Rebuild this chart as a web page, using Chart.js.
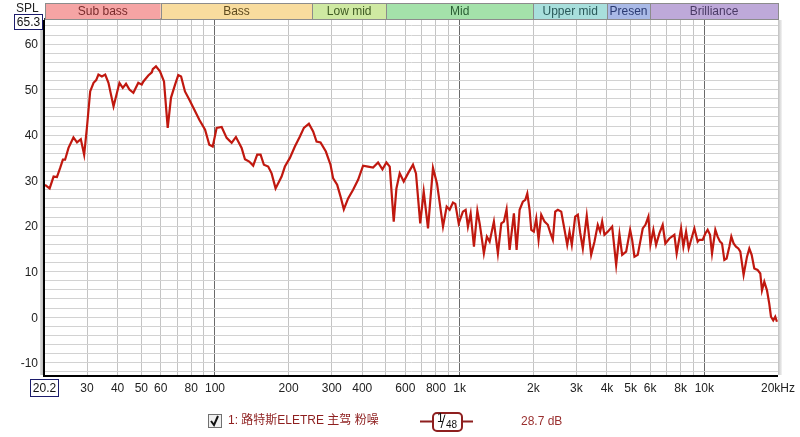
<!DOCTYPE html>
<html><head><meta charset="utf-8">
<script src="https://cdn.jsdelivr.net/npm/chart.js@4"></script>
<style>html,body{margin:0;padding:0;background:#fff;}canvas{display:block;}</style>
</head><body>
<canvas id="c" width="800" height="437"></canvas>
<script>
const bandNames = ['Sub bass','Bass','Low mid','Mid','Upper mid','Presen','Brilliance'];
const bandEdges = [20.2,60,250,500,2000,4000,6000,20000];
const bandFill = ['#f5a4a4','#f8dc9e','#cfe9a2','#a4e2aa','#a8dfdc','#a9b9e6','#bea9d9'];
const bandText = ['#7a2a2a','#5e4a1e','#3e5a22','#2a5e34','#2a5a5a','#2a3a72','#4a3a66'];
const xGridValues = [30,40,50,60,70,80,90,100,200,300,400,500,600,700,800,900,1000,2000,3000,4000,5000,6000,7000,8000,9000,10000];
const xTickValues = [30,40,50,60,80,100,200,300,400,600,800,1000,2000,3000,4000,5000,6000,8000,10000,20000];
const xTickLabels = ['30','40','50','60','80','100','200','300','400','600','800','1k','2k','3k','4k','5k','6k','8k','10k','20kHz'];
const yTickValues = [-10,0,10,20,30,40,50,60];
const seriesName = '1: 路特斯ELETRE 主驾 粉噪';
const smoothing = ['1','48'];
const avgLabel = '28.7 dB';
const freqs = [20.2,21.1,21.9,22.6,23.3,23.9,24.4,25.2,26.4,27.3,28.3,29.2,30.0,30.9,31.9,32.7,33.4,34.5,35.6,36.7,38.5,40.7,42.0,43.3,44.7,46.4,48.6,50.2,51.0,53.4,55.2,55.7,57.4,59.6,61.9,64.1,66.1,68.7,70.8,72.7,75.4,78.6,81.6,86.3,91.1,94.8,97.9,101.6,106.5,111.6,117,121.8,128.5,132.6,138,143.3,148.8,153.6,158.5,165,170.4,176.9,187.2,193.1,202.4,212.1,222.4,230.9,242,251.9,260.1,270,283.9,296.6,304.1,315.7,326,336.2,350.1,366.9,384.5,403,422.4,442.7,464,483.6,502,517.9,537.7,551.5,568.9,590.7,615.1,644.6,663,690,713,742.5,778,808,855,885,910,939,960,991,1031,1058,1081,1109,1144,1181,1207,1226,1256,1292,1326,1380,1433,1480,1516,1555,1600,1666,1709,1758,1813,1855,1890,1931,1962,2010,2056,2101,2155,2223,2293,2352,2403,2458,2519,2601,2683,2752,2812,2873,2966,3041,3110,3187,3307,3447,3556,3668,3752,3823,3906,4030,4200,4361,4499,4614,4791,4974,5069,5180,5344,5601,5745,5907,6020,6190,6350,6550,6757,6930,7195,7543,7707,8034,8209,8420,8628,9105,9392,9541,9843,10094,10316,10551,10750,11090,11330,11590,11810,12070,12330,12650,12890,13170,13470,13770,14030,14470,14940,15270,15610,16000,16500,16930,17200,17580,18030,18420,18720,19120,19490,19800];
const spl = [29.1,28.3,30.9,30.8,32.8,34.6,34.6,37.2,39.5,38.4,39.1,35.7,41.9,49.6,51.5,52.1,53.3,52.9,53.3,51.5,46.3,51.5,50.4,51.3,50.0,49.3,51.5,51.1,51.8,53.1,53.8,54.5,55.1,54.0,51.8,41.6,48.2,51.1,53.2,52.9,49.6,47.8,46.0,43.4,41.2,37.9,37.5,41.6,41.8,39.4,38.3,39.6,37.2,34.7,34.2,33.3,35.7,35.7,33.5,33.1,31.6,28.3,30.9,33.1,35.0,37.5,39.7,41.6,42.5,40.8,38.6,38.4,36.4,33.5,30.5,29.1,26.5,23.7,26.1,28.0,30.2,33.3,33.1,32.9,34.0,32.5,34.0,33.1,21.0,28.3,31.6,29.8,31.6,33.5,31.6,20.6,27.6,19.5,32.8,29.4,19.9,24.3,23.6,25.2,24.9,20.6,23.2,23.6,19.9,22.8,15.5,23.4,20.6,18.1,14.0,17.7,16.6,21.0,14.0,20.6,21.0,23.7,14.8,22.8,14.8,23.6,25.4,25.8,27.2,23.6,19.2,18.8,21.7,17.0,22.5,21.0,20.3,18.4,17.0,23.2,23.6,23.2,19.2,15.9,18.8,15.9,22.1,22.5,18.5,15.1,22.3,13.7,16.6,20.3,18.8,21.0,18.1,18.8,19.9,11.5,18.2,13.7,14.4,19.2,17.0,13.3,13.7,19.5,20.3,22.1,15.9,19.2,15.9,18.4,20.3,16.2,17.3,18.1,14.0,19.5,15.5,18.8,15.1,19.5,16.6,17.0,17.0,18.4,19.2,18.1,14.0,19.2,17.7,16.6,16.2,12.6,12.9,15.5,17.7,16.2,15.5,15.1,14.4,9.3,13.3,15.1,13.7,10.7,10.4,9.6,5.9,7.8,5.9,3.0,0.1,-0.7,0.1,-1.0];
const xMin = 20.2, xMax = 20000, yMin = -12.7, yMax = 65.3;

const FONT = '12px Arial, "Liberation Sans", sans-serif';
const deco = {
  id: 'deco',
  beforeDraw(chart) {
    const ctx = chart.ctx, a = chart.chartArea;
    ctx.save();
    ctx.fillStyle = '#fff';
    ctx.fillRect(0, 0, chart.width, chart.height);
    const g = ctx.createLinearGradient(a.left - 6, 0, a.left, 0);
    g.addColorStop(0, '#e8e8e8'); g.addColorStop(1, '#a8a8a8');
    ctx.fillStyle = g;
    ctx.fillRect(a.left - 5, a.top, 5, a.bottom - a.top);
    const g2 = ctx.createLinearGradient(a.right, 0, a.right + 4, 0);
    g2.addColorStop(0, '#c0c0c0'); g2.addColorStop(1, '#f4f4f4');
    ctx.fillStyle = g2;
    ctx.fillRect(a.right, a.top, 4, a.bottom - a.top);
    ctx.restore();
  },
  afterDraw(chart) {
    const ctx = chart.ctx, a = chart.chartArea;
    const xs = chart.scales.x, ys = chart.scales.y;
    ctx.save();
    ctx.strokeStyle = '#000';
    ctx.lineWidth = 2;
    ctx.beginPath();
    ctx.moveTo(a.left - 1, a.top); ctx.lineTo(a.left - 1, a.bottom + 1); ctx.lineTo(a.right, a.bottom + 1);
    ctx.stroke();
    ctx.strokeStyle = '#333';
    ctx.beginPath(); ctx.moveTo(a.left - 1, a.top - 1); ctx.lineTo(a.right, a.top - 1); ctx.stroke();
    const bt = 3, bh = 16;
    ctx.font = FONT;
    ctx.textAlign = 'center'; ctx.textBaseline = 'middle';
    for (let i = 0; i < bandNames.length; i++) {
      const x0 = xs.getPixelForValue(bandEdges[i]);
      const x1 = xs.getPixelForValue(bandEdges[i + 1]);
      ctx.fillStyle = bandFill[i];
      ctx.fillRect(x0, bt, x1 - x0, bh);
      ctx.strokeStyle = '#8c8c8c'; ctx.lineWidth = 1;
      ctx.strokeRect(Math.round(x0) + 0.5, bt + 0.5, Math.round(x1 - x0), bh);
      ctx.fillStyle = bandText[i];
      ctx.fillText(bandNames[i], (x0 + x1) / 2, bt + bh / 2 + 1);
    }
    ctx.fillStyle = '#222';
    xTickValues.forEach((v, i) => {
      ctx.fillText(xTickLabels[i], xs.getPixelForValue(v), 389);
    });
    ctx.textAlign = 'right';
    yTickValues.forEach(v => {
      ctx.fillText(String(v), 38, ys.getPixelForValue(v) + 1);
    });
    ctx.textAlign = 'left';
    ctx.fillText('SPL', 16, 9);
    function box(txt, x, y, w, h) {
      ctx.fillStyle = '#fff';
      ctx.fillRect(x, y, w, h);
      ctx.strokeStyle = '#1c1c6c'; ctx.lineWidth = 1;
      ctx.strokeRect(x + 0.5, y + 0.5, w, h);
      ctx.fillStyle = '#111';
      ctx.textAlign = 'center';
      ctx.fillText(txt, x + w / 2 + 0.5, y + h / 2 + 1);
    }
    box(String(yMax), 14, 14, 28, 15);
    box(String(xMin), 30, 379, 28, 17);
    ctx.fillStyle = '#f0f0f0';
    ctx.fillRect(208, 414, 13, 13);
    ctx.strokeStyle = '#707070'; ctx.lineWidth = 1;
    ctx.strokeRect(208.5, 414.5, 13, 13);
    ctx.strokeStyle = '#111'; ctx.lineWidth = 2;
    ctx.beginPath(); ctx.moveTo(211, 421); ctx.lineTo(214, 425); ctx.lineTo(218, 416); ctx.stroke();
    ctx.font = '12px "Liberation Sans", Arial, "Noto Sans CJK SC", sans-serif';
    ctx.fillStyle = '#8e1f1f';
    ctx.textAlign = 'left'; ctx.textBaseline = 'middle';
    ctx.fillText(seriesName, 228, 421);
    ctx.strokeStyle = '#8e1f1f'; ctx.lineWidth = 2;
    ctx.beginPath(); ctx.moveTo(420, 421.5); ctx.lineTo(433, 421.5); ctx.moveTo(462, 421.5); ctx.lineTo(473, 421.5); ctx.stroke();
    ctx.beginPath();
    if (ctx.roundRect) ctx.roundRect(433, 413, 29, 18, 4); else ctx.rect(433, 413, 29, 18);
    ctx.stroke();
    ctx.fillStyle = '#111';
    ctx.font = '12px Arial, sans-serif';
    ctx.fillText(smoothing[0], 437, 419);
    ctx.strokeStyle = '#111'; ctx.lineWidth = 1;
    ctx.beginPath(); ctx.moveTo(445, 414.5); ctx.lineTo(441, 428); ctx.stroke();
    ctx.font = '10px Arial, sans-serif';
    ctx.fillText(smoothing[1], 446, 425);
    ctx.font = FONT;
    ctx.fillStyle = '#9a3030';
    ctx.fillText(avgLabel, 521, 422);
    ctx.restore();
  }
};

const yGrid = [];
for (let v = -12; v <= 64; v += 2) yGrid.push(v);

new Chart(document.getElementById('c'), {
  type: 'scatter',
  data: {
    datasets: [{
      data: freqs.map((f, i) => ({ x: f, y: spl[i] })),
      showLine: true,
      borderColor: '#c0180f',
      backgroundColor: '#c0180f',
      borderWidth: 2.2,
      pointRadius: 0,
      tension: 0
    }]
  },
  options: {
    responsive: false,
    animation: false,
    devicePixelRatio: 1,
    layout: { padding: { left: 45, top: 20, right: 22, bottom: 62 } },
    plugins: { legend: { display: false }, tooltip: { enabled: false } },
    scales: {
      x: {
        type: 'logarithmic', min: xMin, max: xMax,
        afterBuildTicks: s => { s.ticks = xGridValues.map(v => ({ value: v })); },
        ticks: { display: false },
        border: { display: false },
        grid: {
          drawTicks: false,
          lineWidth: 1,
          color: c => ([100, 1000, 10000].includes(c.tick && c.tick.value) ? '#6a6a6a' : '#c4c4c4')
        }
      },
      y: {
        min: yMin, max: yMax,
        afterBuildTicks: s => { s.ticks = yGrid.map(v => ({ value: v })); },
        ticks: { display: false },
        border: { display: false },
        grid: { drawTicks: false, lineWidth: 1, color: '#d2d2d2' }
      }
    }
  },
  plugins: [deco]
});
</script>
</body></html>
